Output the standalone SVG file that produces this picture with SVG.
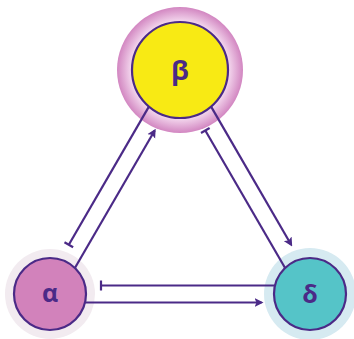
<svg xmlns="http://www.w3.org/2000/svg" width="354" height="339" viewBox="0 0 354 339">
  <style>
    .edge { fill: none; stroke: #4b2a87; stroke-width: 2.2; }
    .core { stroke: #4b2a87; stroke-width: 2.2; }
    .label { font-family: "Open Sans", "DejaVu Sans", sans-serif; font-weight: bold; font-size: 25px; fill: #4b2a87; text-anchor: middle; }
    .big { font-size: 27px; }
  </style>
  <defs>
    <radialGradient id="betaGlow" cx="180" cy="70" r="63" gradientUnits="userSpaceOnUse">
      <stop offset="0.72" stop-color="#fbeef8"/>
      <stop offset="0.8" stop-color="#efcde8"/>
      <stop offset="1" stop-color="#d286c1"/>
    </radialGradient>
    <marker id="arrow" viewBox="0 -5 9 10" refX="7" refY="0" markerWidth="9" markerHeight="10" markerUnits="userSpaceOnUse" orient="auto">
      <path d="M0,-4.5 L9,0 L0,4.5 L2,0 Z" fill="#4b2a87"/>
    </marker>
    <marker id="bar" viewBox="-2 -6 4 12" refX="0" refY="0" markerWidth="4" markerHeight="12" markerUnits="userSpaceOnUse" orient="auto">
      <path d="M0,-5 L0,5" stroke="#4b2a87" stroke-width="2.2"/>
    </marker>
  </defs>

  <!-- halos -->
  <circle cx="180" cy="70" r="63" fill="url(#betaGlow)"/>
  <circle cx="50" cy="294" r="45" fill="#f2ebf0"/>
  <circle cx="310" cy="294" r="46" fill="#d6eaf1"/>

  <g id="connectors">
    <!-- alpha activates beta -->
    <line class="edge" x1="74.9" y1="268" x2="154.7" y2="130.5" marker-end="url(#arrow)"/>
    <!-- beta inhibits alpha -->
    <line class="edge" x1="148.9" y1="106.6" x2="68.8" y2="244.8" marker-end="url(#bar)"/>
    <!-- beta activates delta -->
    <line class="edge" x1="211.1" y1="106.6" x2="291.2" y2="244.8" marker-end="url(#arrow)"/>
    <!-- delta inhibits beta -->
    <line class="edge" x1="285.1" y1="268" x2="205.3" y2="130.5" marker-end="url(#bar)"/>
    <!-- delta inhibits alpha -->
    <line class="edge" x1="275" y1="285.5" x2="101" y2="285.5" marker-end="url(#bar)"/>
    <!-- alpha activates delta -->
    <line class="edge" x1="85" y1="302.5" x2="261.5" y2="302.5" marker-end="url(#arrow)"/>
  </g>

  <g id="beta">
    <circle class="core" cx="180" cy="70" r="48" fill="#f8ea14"/>
    <text class="label big" x="180" y="80">β</text>
  </g>
  <g id="alpha">
    <circle class="core" cx="50" cy="294" r="36" fill="#d282bb"/>
    <text class="label" x="50" y="301.5">α</text>
  </g>
  <g id="delta">
    <circle class="core" cx="310" cy="294" r="36" fill="#55c4c8"/>
    <text class="label" x="310" y="303">δ</text>
  </g>
</svg>
